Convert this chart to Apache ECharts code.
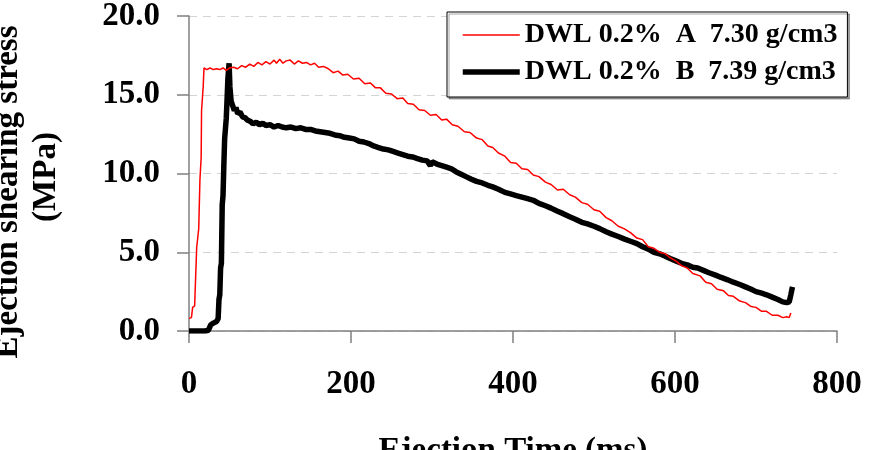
<!DOCTYPE html>
<html>
<head>
<meta charset="utf-8">
<script src="https://cdn.jsdelivr.net/npm/echarts@6/dist/echarts.min.js"></script>
<style>html,body{margin:0;padding:0;background:#fff}#c{width:870px;height:450px}</style>
</head>
<body>
<div id="c"></div>
<script>
const seriesNames = ['DWL 0.2%  A  7.30 g/cm3', 'DWL 0.2%  B  7.39 g/cm3'];
const xTicks = [0, 200, 400, 600, 800];
const yTicks = [0, 5, 10, 15, 20];
const xTitle = 'Ejection Time (ms)';
const yTitle1 = 'Ejection shearing stress';
const yTitle2 = '(MPa)';

const timeA = [0,3,4.5,7,7.5,9,9.5,12,13.5,15,15.5,17.5,18.5,22,26,30,34,38,42,46,50,55,60,65,70,75,80,85,90,95,100,105,108,112,116,120,125,130,135,140,145,150,155,160,166,172,178,184,190,196,203,210,217,224,230,236,243,250,257,264,270,277,284,291,298,305,312,318,325,332,340,347,355,362,369,375,382,390,397,404,411,418,425,432,440,447,455,462,470,477,485,492,500,507,515,522,530,537,545,553,560,567,574,581,588,594,601,608,615,622,631,638,645,652,660,666,672,680,687,694,700,707,713,720,727,733,738,741,743];
const stressA = [0.8,0.85,1.5,1.6,2.4,2.5,5.3,6.5,9.6,11,14,15.5,16.7,16.6,16.7,16.6,16.65,16.6,16.7,16.55,16.7,16.75,16.65,16.85,16.75,16.95,16.8,17.05,16.9,17.1,16.95,17.2,17.0,17.25,17.0,17.15,17.2,16.95,17.15,17.0,17.05,16.9,17.0,16.75,16.8,16.65,16.4,16.5,16.25,16.3,16.0,16.05,15.7,15.75,15.45,15.45,15.1,15.05,14.75,14.8,14.45,14.4,14.05,14.0,13.7,13.75,13.4,13.45,13.1,13.0,12.65,12.6,12.25,12.15,11.75,11.65,11.3,11.1,10.7,10.65,10.3,10.25,9.9,9.8,9.45,9.3,8.95,9.0,8.65,8.5,8.15,8.05,7.7,7.6,7.2,7.0,6.65,6.5,6.25,5.9,5.8,5.35,5.25,5.0,4.9,4.65,4.45,4.15,4.0,3.65,3.5,3.1,3.0,2.65,2.55,2.25,2.2,1.9,1.8,1.55,1.5,1.25,1.25,1.0,1.0,0.85,0.9,0.85,1.15];

const timeB = [0,10,20,24,27,30,34,36,37,38,39,40,41,42,43,44,46,47,48,49.5,50.5,52,54,56,58,60,63,66,69,72,76,79,83,87,91,95,100,105,110,115,120,126,132,138,144,150,156,162,168,174,180,186,192,198,204,210,216,222,228,234,240,246,252,258,264,270,276,282,288,294,298,300,306,312,318,324,330,336,342,348,355,362,369,375,382,390,397,404,411,418,425,432,440,447,455,462,470,477,485,492,500,507,515,522,530,537,545,553,560,567,574,581,588,594,601,608,615,622,628,635,642,650,657,665,672,680,687,694,700,707,713,720,727,733,738,741,743,745];
const stressB = [0.0,0.0,0.0,0.05,0.4,0.5,0.6,0.8,2.0,2.3,4.0,4.3,8.0,8.6,10.5,12.2,13.5,14.7,16.0,17.0,15.5,14.6,14.3,14.0,14.2,13.8,13.9,13.6,13.55,13.4,13.3,13.15,13.25,13.1,13.2,13.05,13.1,12.95,13.05,12.95,12.9,12.95,12.85,12.9,12.8,12.8,12.7,12.65,12.6,12.55,12.45,12.4,12.3,12.25,12.2,12.05,12.0,11.9,11.75,11.65,11.55,11.5,11.4,11.3,11.2,11.1,11.05,10.95,10.85,10.8,10.5,10.75,10.6,10.5,10.4,10.3,10.1,9.95,9.8,9.65,9.5,9.4,9.25,9.15,9.0,8.8,8.7,8.6,8.5,8.4,8.3,8.1,7.95,7.8,7.6,7.45,7.25,7.1,6.9,6.8,6.65,6.5,6.3,6.15,6.0,5.85,5.7,5.55,5.35,5.2,5.0,4.9,4.75,4.6,4.45,4.3,4.2,4.05,4.0,3.85,3.7,3.55,3.4,3.25,3.1,2.95,2.8,2.65,2.5,2.4,2.3,2.15,2.0,1.85,1.8,1.85,2.3,2.8];

const FONT = "'Liberation Serif','Times New Roman',serif";
const pairs = (xs, ys) => xs.map((x, i) => [x, ys[i]]);

const chart = echarts.init(document.getElementById('c'));
chart.setOption({
  animation: false,
  backgroundColor: '#fff',
  grid: { left: 189, right: 33, top: 16, bottom: 119, containLabel: false, outerBoundsMode: 'none' },
  xAxis: {
    type: 'value', min: xTicks[0], max: xTicks[xTicks.length - 1], interval: 200,
    name: xTitle, nameLocation: 'middle', nameGap: 104,
    nameTextStyle: { fontFamily: FONT, fontWeight: 'bold', fontSize: 33, color: '#000' },
    axisLine: { show: true, onZero: false, lineStyle: { color: '#808080', width: 1.5 } },
    axisTick: { show: true, length: 12, lineStyle: { color: '#808080', width: 1.5 } },
    axisLabel: { margin: 37, fontFamily: FONT, fontWeight: 'bold', fontSize: 33, color: '#000' },
    splitLine: { show: false }
  },
  yAxis: {
    type: 'value', min: yTicks[0], max: yTicks[yTicks.length - 1], interval: 5,
    axisLine: { show: true, lineStyle: { color: '#808080', width: 1.5 } },
    axisTick: { show: true, length: 12, lineStyle: { color: '#808080', width: 1.5 } },
    axisLabel: { margin: 29, fontFamily: FONT, fontWeight: 'bold', fontSize: 33, color: '#000',
      formatter: v => v.toFixed(1) },
    splitLine: { show: true, lineStyle: { color: '#d4d4d4', type: [8, 6], width: 1.2 } }
  },
  legend: {
    orient: 'vertical', left: 447, top: 12,
    padding: [9, 10, 11, 13], itemGap: 9, itemWidth: 57, itemHeight: 14,
    borderColor: '#000', borderWidth: 1,
    shadowColor: 'rgba(0,0,0,0.35)', shadowOffsetX: 2, shadowOffsetY: 2, shadowBlur: 0,
    backgroundColor: '#fff',
    itemStyle: { opacity: 0 },
    textStyle: { fontFamily: FONT, fontWeight: 'bold', fontSize: 28, color: '#000' },
    data: [
      { name: seriesNames[0], lineStyle: { width: 1.5 }, itemStyle: { opacity: 0 } },
      { name: seriesNames[1], lineStyle: { width: 5.5 }, itemStyle: { opacity: 0 } }
    ]
  },
  graphic: [
    { type: 'text', x: 8, y: 192, rotation: Math.PI / 2,
      style: { text: yTitle1, fontFamily: FONT, fontWeight: 'bold', fontSize: 33, fill: '#000', align: 'center', verticalAlign: 'middle' } },
    { type: 'text', x: 46, y: 177, rotation: Math.PI / 2,
      style: { text: yTitle2, fontFamily: FONT, fontWeight: 'bold', fontSize: 33, fill: '#000', align: 'center', verticalAlign: 'middle' } }
  ],
  series: [
    { name: seriesNames[0], type: 'line', data: pairs(timeA, stressA), symbol: 'none',
      lineStyle: { color: '#ff0000', width: 1.5 }, itemStyle: { color: '#ff0000' }, z: 3 },
    { name: seriesNames[1], type: 'line', data: pairs(timeB, stressB), symbol: 'none',
      lineStyle: { color: '#000000', width: 5.5 }, itemStyle: { color: '#000000' }, z: 2 }
  ]
});
</script>
</body>
</html>
